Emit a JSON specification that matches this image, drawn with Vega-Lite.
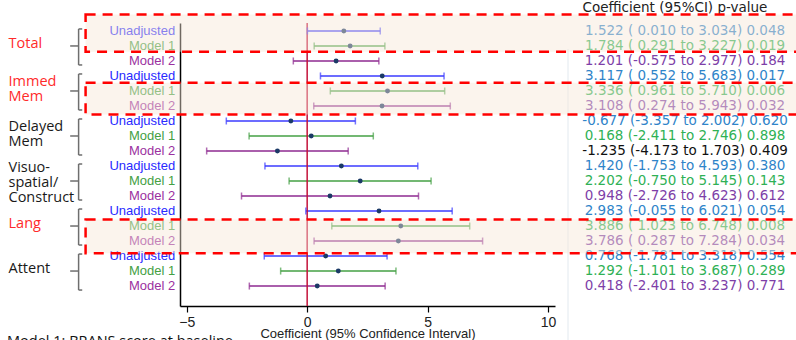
{
  "$schema": "https://vega.github.io/schema/vega-lite/v6.json",
  "width": 375,
  "height": 283,
  "autosize": {"type": "none"},
  "padding": {"left": 180, "top": 23, "right": 241, "bottom": 34},
  "background": "white",
  "config": {
    "view": {"stroke": null},
    "axis": {
      "grid": false,
      "labelFont": "Liberation Sans",
      "labelFontSize": 14,
      "labelColor": "#222222",
      "titleFont": "Liberation Sans",
      "titleFontSize": 13,
      "titleFontWeight": "normal",
      "titleColor": "#222222",
      "domainColor": "#000000",
      "domainWidth": 1.5,
      "tickColor": "#000000",
      "tickSize": 6,
      "tickWidth": 1.2,
      "labelPadding": 3,
      "titlePadding": -2
    }
  },
  "datasets": {
    "est": [
      {"grp": "Total", "model": "Unadjusted", "row": 1, "est": 1.522, "lo": 0.010, "hi": 3.034, "ci": "1.522 ( 0.010 to 3.034) 0.048"},
      {"grp": "Total", "model": "Model 1", "row": 2, "est": 1.784, "lo": 0.291, "hi": 3.227, "ci": "1.784 ( 0.291 to 3.227) 0.019"},
      {"grp": "Total", "model": "Model 2", "row": 3, "est": 1.201, "lo": -0.575, "hi": 2.977, "ci": "1.201 (-0.575 to 2.977) 0.184"},
      {"grp": "Immed Mem", "model": "Unadjusted", "row": 4, "est": 3.117, "lo": 0.552, "hi": 5.683, "ci": "3.117 ( 0.552 to 5.683) 0.017"},
      {"grp": "Immed Mem", "model": "Model 1", "row": 5, "est": 3.336, "lo": 0.961, "hi": 5.710, "ci": "3.336 ( 0.961 to 5.710) 0.006"},
      {"grp": "Immed Mem", "model": "Model 2", "row": 6, "est": 3.108, "lo": 0.274, "hi": 5.943, "ci": "3.108 ( 0.274 to 5.943) 0.032"},
      {"grp": "Delayed Mem", "model": "Unadjusted", "row": 7, "est": -0.677, "lo": -3.357, "hi": 2.002, "ci": "-0.677 (-3.357 to 2.002) 0.620"},
      {"grp": "Delayed Mem", "model": "Model 1", "row": 8, "est": 0.168, "lo": -2.411, "hi": 2.746, "ci": "0.168 (-2.411 to 2.746) 0.898"},
      {"grp": "Delayed Mem", "model": "Model 2", "row": 9, "est": -1.235, "lo": -4.173, "hi": 1.703, "ci": "-1.235 (-4.173 to 1.703) 0.409"},
      {"grp": "Visuo", "model": "Unadjusted", "row": 10, "est": 1.420, "lo": -1.753, "hi": 4.593, "ci": "1.420 (-1.753 to 4.593) 0.380"},
      {"grp": "Visuo", "model": "Model 1", "row": 11, "est": 2.202, "lo": -0.750, "hi": 5.145, "ci": "2.202 (-0.750 to 5.145) 0.143"},
      {"grp": "Visuo", "model": "Model 2", "row": 12, "est": 0.948, "lo": -2.726, "hi": 4.623, "ci": "0.948 (-2.726 to 4.623) 0.612"},
      {"grp": "Lang", "model": "Unadjusted", "row": 13, "est": 2.983, "lo": -0.055, "hi": 6.021, "ci": "2.983 (-0.055 to 6.021) 0.054"},
      {"grp": "Lang", "model": "Model 1", "row": 14, "est": 3.886, "lo": 1.023, "hi": 6.748, "ci": "3.886 ( 1.023 to 6.748) 0.008"},
      {"grp": "Lang", "model": "Model 2", "row": 15, "est": 3.786, "lo": 0.287, "hi": 7.284, "ci": "3.786 ( 0.287 to 7.284) 0.034"},
      {"grp": "Attent", "model": "Unadjusted", "row": 16, "est": 0.768, "lo": -1.781, "hi": 3.318, "ci": "0.768 (-1.781 to 3.318) 0.554"},
      {"grp": "Attent", "model": "Model 1", "row": 17, "est": 1.292, "lo": -1.101, "hi": 3.687, "ci": "1.292 (-1.101 to 3.687) 0.289"},
      {"grp": "Attent", "model": "Model 2", "row": 18, "est": 0.418, "lo": -2.401, "hi": 3.237, "ci": "0.418 (-2.401 to 3.237) 0.771"}
    ],
    "groups": [
      {"grp": "Total", "label": "Total", "lines": 1, "r1": 1, "r2": 2, "r3": 3},
      {"grp": "Immed Mem", "label": "Immed\nMem", "lines": 2, "r1": 4, "r2": 5, "r3": 6},
      {"grp": "Delayed Mem", "label": "Delayed\nMem", "lines": 2, "r1": 7, "r2": 8, "r3": 9},
      {"grp": "Visuo", "label": "Visuo-\nspatial/\nConstruct", "lines": 3, "r1": 10, "r2": 11, "r3": 12},
      {"grp": "Lang", "label": "Lang", "lines": 1, "r1": 13, "r2": 14, "r3": 15},
      {"grp": "Attent", "label": "Attent", "lines": 1, "r1": 16, "r2": 17, "r3": 18}
    ],
    "boxes": [
      {"box": "Total", "top": -0.10, "bottom": 2.38},
      {"box": "Immed Mem", "top": 4.45, "bottom": 6.56},
      {"box": "Lang", "top": 13.56, "bottom": 15.82}
    ]
  },
  "resolve": {"scale": {"color": "independent"}},
  "layer": [
    {
      "data": {"name": "est"},
      "mark": {"type": "rule", "strokeWidth": 1.5},
      "encoding": {
        "x": {"field": "lo", "type": "quantitative", "scale": {"domain": [-5.28, 10.29], "nice": false, "zero": false},
              "axis": {"values": [-5, 0, 5, 10], "title": "Coefficient (95% Confidence Interval)"}},
        "x2": {"field": "hi"},
        "y": {"field": "row", "type": "quantitative", "scale": {"domain": [0.47, 19.33], "nice": false, "zero": false, "reverse": true},
              "axis": {"labels": false, "ticks": false, "title": null, "domain": true}},
        "color": {"field": "model", "type": "nominal", "legend": null,
                  "scale": {"domain": ["Unadjusted", "Model 1", "Model 2"], "range": ["#3b3bff", "#45a045", "#8e2a90"]}}
      }
    },
    {
      "data": {"values": [{"ref": 0}]},
      "mark": {"type": "rule", "color": "#c4123a", "strokeWidth": 1.5},
      "encoding": {
        "x": {"field": "ref", "type": "quantitative"},
        "y": {"datum": 0.47},
        "y2": {"datum": 19.33}
      }
    },
    {
      "data": {"values": [{"edge": 10.83}]},
      "mark": {"type": "rule", "color": "#e2e9ef", "strokeWidth": 1},
      "encoding": {
        "x": {"field": "edge", "type": "quantitative"},
        "y": {"datum": 2.2},
        "y2": {"datum": 22}
      }
    },
    {
      "data": {"name": "est"},
      "mark": {"type": "tick", "orient": "vertical", "size": 7, "thickness": 1.5},
      "encoding": {
        "x": {"field": "lo", "type": "quantitative"},
        "y": {"field": "row", "type": "quantitative"},
        "color": {"field": "model", "type": "nominal", "legend": null,
                  "scale": {"domain": ["Unadjusted", "Model 1", "Model 2"], "range": ["#3b3bff", "#45a045", "#8e2a90"]}}
      }
    },
    {
      "data": {"name": "est"},
      "mark": {"type": "tick", "orient": "vertical", "size": 7, "thickness": 1.5},
      "encoding": {
        "x": {"field": "hi", "type": "quantitative"},
        "y": {"field": "row", "type": "quantitative"},
        "color": {"field": "model", "type": "nominal", "legend": null,
                  "scale": {"domain": ["Unadjusted", "Model 1", "Model 2"], "range": ["#3b3bff", "#45a045", "#8e2a90"]}}
      }
    },
    {
      "data": {"name": "est"},
      "mark": {"type": "point", "filled": true, "size": 24, "color": "#1b3a66", "opacity": 1},
      "encoding": {
        "x": {"field": "est", "type": "quantitative"},
        "y": {"field": "row", "type": "quantitative"}
      }
    },
    {
      "data": {"name": "est"},
      "mark": {"type": "text", "align": "right", "baseline": "middle", "font": "Liberation Sans", "fontSize": 13},
      "encoding": {
        "x": {"datum": -5.48},
        "y": {"field": "row", "type": "quantitative"},
        "text": {"field": "model"},
        "color": {"field": "model", "type": "nominal", "legend": null,
                  "scale": {"domain": ["Unadjusted", "Model 1", "Model 2"], "range": ["#2a2aff", "#44a044", "#9b30a0"]}}
      }
    },
    {
      "data": {"name": "est"},
      "mark": {"type": "text", "align": "center", "baseline": "middle", "font": "DejaVu Sans", "fontSize": 13.5},
      "encoding": {
        "x": {"datum": 15.69},
        "y": {"field": "row", "type": "quantitative"},
        "text": {"field": "ci"},
        "color": {"condition": {"test": "datum.row === 9", "value": "#111111"},
                  "field": "model", "type": "nominal", "legend": null,
                  "scale": {"domain": ["Unadjusted", "Model 1", "Model 2"], "range": ["#2f84c9", "#2fb155", "#7e3fa8"]}}
      }
    },
    {
      "data": {"values": [{"head": "Coefficient (95%CI) p-value"}]},
      "mark": {"type": "text", "align": "center", "baseline": "middle", "font": "DejaVu Sans", "fontSize": 13.5, "color": "#222222"},
      "encoding": {
        "x": {"datum": 15.27},
        "y": {"datum": -0.51},
        "text": {"field": "head"}
      }
    },
    {
      "data": {"name": "groups"},
      "transform": [{"filter": "datum.lines === 1"}],
      "mark": {"type": "text", "align": "left", "baseline": "middle", "font": "Open Sans", "fontSize": 14.5, "yOffset": -2},
      "encoding": {
        "x": {"datum": -12.4},
        "y": {"field": "r2", "type": "quantitative"},
        "text": {"field": "label"},
        "color": {"field": "grp", "type": "nominal", "legend": null,
                  "scale": {"domain": ["Total", "Immed Mem", "Delayed Mem", "Visuo", "Lang", "Attent"],
                            "range": ["#ff2a2a", "#ff2a2a", "#1a1a1a", "#1a1a1a", "#ff2a2a", "#1a1a1a"]}}
      }
    },
    {
      "data": {"name": "groups"},
      "transform": [{"filter": "datum.lines === 2"}],
      "mark": {"type": "text", "align": "left", "baseline": "middle", "font": "Open Sans", "fontSize": 14.5, "lineBreak": "\n", "lineHeight": 15, "yOffset": -8.5},
      "encoding": {
        "x": {"datum": -12.4},
        "y": {"field": "r2", "type": "quantitative"},
        "text": {"field": "label"},
        "color": {"field": "grp", "type": "nominal", "legend": null,
                  "scale": {"domain": ["Total", "Immed Mem", "Delayed Mem", "Visuo", "Lang", "Attent"],
                            "range": ["#ff2a2a", "#ff2a2a", "#1a1a1a", "#1a1a1a", "#ff2a2a", "#1a1a1a"]}}
      }
    },
    {
      "data": {"name": "groups"},
      "transform": [{"filter": "datum.lines === 3"}],
      "mark": {"type": "text", "align": "left", "baseline": "middle", "font": "Open Sans", "fontSize": 14.5, "lineBreak": "\n", "lineHeight": 15, "yOffset": -13},
      "encoding": {
        "x": {"datum": -12.4},
        "y": {"field": "r2", "type": "quantitative"},
        "text": {"field": "label"},
        "color": {"value": "#1a1a1a"}
      }
    },
    {
      "data": {"name": "groups"},
      "mark": {"type": "rule", "color": "#6e6e6e", "strokeWidth": 1.5, "yOffset": -2, "y2Offset": 4},
      "encoding": {
        "x": {"datum": -9.49},
        "y": {"field": "r1", "type": "quantitative"},
        "y2": {"field": "r3"}
      }
    },
    {
      "data": {"name": "groups"},
      "mark": {"type": "rule", "color": "#6e6e6e", "strokeWidth": 1.5, "yOffset": -2},
      "encoding": {
        "x": {"datum": -9.49},
        "x2": {"datum": -9.34},
        "y": {"field": "r1", "type": "quantitative"}
      }
    },
    {
      "data": {"name": "groups"},
      "mark": {"type": "rule", "color": "#6e6e6e", "strokeWidth": 1.5, "yOffset": 4},
      "encoding": {
        "x": {"datum": -9.49},
        "x2": {"datum": -9.34},
        "y": {"field": "r3", "type": "quantitative"}
      }
    },
    {
      "data": {"name": "groups"},
      "mark": {"type": "rule", "color": "#6e6e6e", "strokeWidth": 1.5},
      "encoding": {
        "x": {"datum": -9.84},
        "x2": {"datum": -9.49},
        "y": {"field": "r2", "type": "quantitative"}
      }
    },
    {
      "data": {"values": [{"note": "Model 1: BRANS score at baseline"}]},
      "mark": {"type": "text", "align": "left", "baseline": "middle", "font": "Open Sans", "fontSize": 14.5, "color": "#111111"},
      "encoding": {
        "x": {"datum": -12.46},
        "y": {"datum": 21.75},
        "text": {"field": "note"}
      }
    },
    {
      "data": {"name": "boxes"},
      "mark": {"type": "rect", "fill": "#f6e6d8", "fillOpacity": 0.45, "stroke": "#ff0000", "strokeWidth": 2.5, "strokeDash": [10, 7]},
      "encoding": {
        "x": {"datum": -9.2},
        "x2": {"datum": 30},
        "y": {"field": "top", "type": "quantitative"},
        "y2": {"field": "bottom"}
      }
    }
  ]
}
